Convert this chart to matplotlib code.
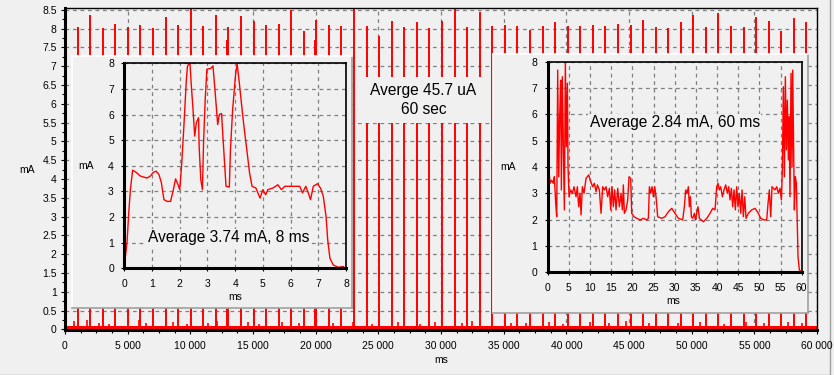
import matplotlib
matplotlib.use('Agg')
import matplotlib.pyplot as plt
from matplotlib.ticker import MultipleLocator, FuncFormatter
from matplotlib.lines import Line2D

plt.rcParams['font.family'] = ['Liberation Sans', 'DejaVu Sans']

# ---------------- data ----------------
# main chart: wake-up pulses over 60 s (ms, mA)
spike_t = [0, 1003, 2005, 3008, 4011, 5014, 6016, 7019, 8022, 9024,
           10027, 11030, 12032, 13035, 14038, 15041, 16043, 17046, 18049, 19051,
           20054, 21057, 22059, 23062, 24065, 25068, 26070, 27073, 28076, 29078,
           30081, 31084, 32086, 33089, 34092, 35095, 36097, 37100, 38103, 39105,
           40108, 41111, 42113, 43116, 44119, 45122, 46124, 47127, 48130, 49132,
           50135, 51138, 52140, 53143, 54146, 55149, 56151, 57154, 58157, 59159,
           12955, 19950]
spike_h = [8.07, 8.04, 8.37, 8.01, 8.13, 8.04, 8.10, 8.01, 8.31, 8.10,
           9.00, 8.07, 8.37, 8.04, 8.34, 8.21, 8.10, 8.13, 8.48, 7.94,
           8.23, 8.10, 8.07, 9.00, 8.07, 7.81, 8.21, 8.04, 8.16, 8.01,
           8.21, 9.00, 8.04, 8.45, 8.07, 8.10, 8.07, 7.97, 8.07, 8.17,
           8.07, 8.07, 8.10, 8.07, 8.13, 8.10, 8.23, 8.04, 8.01, 8.17,
           8.37, 8.04, 8.42, 8.07, 8.04, 8.31, 8.21, 7.94, 8.28, 8.16,
           7.70, 7.70]
small_t = [745, 1780, 2710, 3500, 5930, 6500, 8620, 9700, 11400, 12100,
           14600, 15500, 17300, 18700, 21400, 23000, 24500, 26600, 28300, 29500,
           31700, 32500, 35600, 36800, 38600, 39700, 41900, 43400, 44800, 46600,
           48900, 50700, 52600, 54300, 55800, 57700, 58800]
small_h = [0.22, 0.25, 0.18, 0.15, 0.24, 0.16, 0.20, 0.14, 0.17, 0.22,
           0.19, 0.15, 0.21, 0.16, 0.18, 0.20, 0.15, 0.19, 0.14, 0.21,
           0.17, 0.23, 0.16, 0.18, 0.20, 0.15, 0.19, 0.17, 0.22, 0.16,
           0.18, 0.20, 0.15, 0.21, 0.17, 0.19, 0.16]
floor_t = [0, 60000]
floor_h = [0.08, 0.08]

# inset 1: one 8 ms pulse
p1_t = [0, 0.04, 0.10, 0.16, 0.22, 0.30, 0.42, 0.58, 0.82, 0.94, 1.04, 1.15, 1.25, 1.34,
        1.43, 1.55, 1.67, 1.77, 1.85, 1.94, 2.00, 2.07, 2.15, 2.24, 2.28, 2.37, 2.42,
        2.48, 2.54, 2.60, 2.68, 2.70, 2.76, 2.82, 2.86, 2.92, 2.98, 3.12, 3.20, 3.28,
        3.37, 3.43, 3.51, 3.55, 3.61, 3.67, 3.79, 3.83, 3.91, 4.01, 4.07, 4.15, 4.25,
        4.33, 4.42, 4.52, 4.61, 4.75, 4.82, 4.90, 5.00, 5.10, 5.18, 5.36, 5.54, 5.67,
        5.79, 6.09, 6.33, 6.43, 6.55, 6.64, 6.72, 6.82, 6.97, 7.08, 7.18, 7.28, 7.34,
        7.42, 7.54, 7.72, 7.90, 7.97]
p1_v = [0, 0.46, 1.04, 2.15, 3.07, 3.83, 3.75, 3.60, 3.52, 3.60, 3.74, 3.79, 3.66, 3.33,
        2.68, 2.61, 2.61, 3.07, 3.49, 3.26, 3.07, 4.05, 5.55, 7.37, 7.90, 8.00, 7.10,
        6.20, 5.16, 5.68, 5.88, 4.77, 3.46, 3.07, 4.90, 6.60, 7.77, 7.80, 7.90, 6.85,
        5.61, 6.00, 6.04, 5.29, 4.25, 3.20, 3.17, 4.63, 6.20, 7.50, 8.00, 7.24, 6.20,
        5.42, 4.63, 3.72, 3.20, 3.13, 2.94, 2.74, 3.07, 2.87, 3.07, 3.13, 3.26, 3.07,
        3.20, 3.20, 3.20, 2.94, 3.20, 2.94, 2.68, 3.20, 3.30, 3.13, 2.81, 2.02, 1.11,
        0.39, 0.13, 0.04, 0.07, 0]

# inset 2: one 60 ms event
p2_t = [0, 0.16, 0.31, 0.55, 0.94, 1.34, 1.57, 1.89, 2.13, 2.36, 2.60, 2.83, 3.07, 3.23,
        3.46, 3.70, 3.94, 4.17, 4.41, 4.65, 4.80, 5.04, 5.43, 5.83, 6.22, 6.69, 7.00,
        7.32, 7.64, 7.87, 8.19, 8.58, 9.06, 9.69, 10.16, 10.63, 11.02, 11.42, 11.73,
        12.20, 12.60, 12.99, 13.39, 13.78, 14.17, 14.57, 14.88, 15.20, 15.51, 15.83,
        16.14, 16.54, 16.93, 17.32, 17.64, 17.87, 18.11, 18.50, 18.90, 19.21, 19.61,
        19.84, 20.39, 21.02, 21.81, 22.60, 23.39, 23.78, 24.02, 24.33, 24.65, 24.96,
        25.28, 25.59, 25.98, 26.93, 27.72, 28.50, 29.29, 30.08, 30.87, 31.89, 32.28,
        32.60, 32.91, 33.23, 33.46, 33.70, 33.94, 34.25, 34.65, 34.88, 35.20, 35.51,
        35.83, 36.77, 37.56, 38.35, 38.98, 39.53, 39.92, 40.24, 40.55, 40.87, 41.26,
        41.65, 42.05, 42.44, 42.76, 43.07, 43.39, 43.70, 44.02, 44.33, 44.65, 44.96,
        45.28, 45.59, 45.91, 46.22, 46.54, 46.85, 47.40, 48.19, 48.98, 49.76, 50.31,
        51.10, 51.73, 52.05, 52.36, 52.68, 52.99, 53.31, 53.70, 54.09, 54.49, 54.88,
        55.20, 55.43, 55.67, 55.91, 56.14, 56.38, 56.61, 56.85, 57.01, 57.24, 57.48,
        57.72, 57.87, 58.11, 58.27, 58.50, 58.74, 58.90, 59.13, 59.45, 60.0]
p2_v = [0, 1.48, 3.89, 3.38, 3.50, 3.38, 3.63, 2.62, 2.11, 7.68, 3.63, 5.91, 7.30, 3.13,
        7.43, 4.65, 2.37, 8.00, 4.77, 7.18, 4.01, 2.87, 3.13, 3.00, 3.25, 2.87, 3.25,
        2.49, 3.00, 2.18, 3.25, 3.00, 3.57, 3.70, 3.44, 3.25, 3.38, 3.06, 3.32,
        3.13, 2.24, 3.25, 3.13, 3.25, 2.87, 3.19, 2.37, 3.25, 2.49, 3.13,
        2.37, 3.19, 2.49, 3.00, 2.37, 3.32, 2.24, 2.37, 2.75, 3.63, 3.57,
        2.24, 2.11, 2.05, 1.99, 2.05, 1.99, 2.05, 3.25, 3.00, 3.25, 2.87,
        3.25, 2.87, 2.11, 2.05, 2.11, 2.30, 2.43, 2.24, 2.05, 1.99, 2.49,
        3.13, 3.00, 3.25, 2.49, 2.87, 2.11, 2.05, 2.24, 1.99, 2.24, 2.49,
        2.05, 1.92, 2.05, 2.24, 2.43, 2.37, 3.25, 3.38, 3.13, 3.25, 2.87,
        3.13, 3.32, 3.00, 3.25, 2.75, 3.19, 2.49, 3.13, 2.37, 3.25, 2.49,
        3.00, 2.24, 3.13, 2.11, 2.87, 2.05, 2.24, 2.37, 2.43, 2.24, 2.05,
        1.99, 1.99, 2.62, 3.13, 2.11, 3.25, 3.19, 3.13, 3.25, 3.00, 3.19,
        2.75, 3.89, 7.05, 3.63, 7.43, 4.65, 6.54, 4.27, 5.91, 2.87, 7.56,
        4.01, 7.68, 4.65, 2.37, 3.63, 3.38, 2.24, 0.59, 0.09, 0]

main_text = "Averge 45.7 uA\n60 sec"
inset1_text = "Average 3.74 mA, 8 ms"
inset2_text = "Average 2.84 mA, 60 ms"

# ---------------- style ----------------
BG = '#f0f0f0'
RED = '#ff0000'
GRID = dict(color='#808080', linestyle=(0, (3, 3)), linewidth=0.9)
FS = 7.5
W, H = 834, 375


def fx(px):
    return px / W


def fy(py):
    return 1 - py / H


fig = plt.figure(figsize=(W / 100, H / 100), dpi=100, facecolor=BG)

# outer frame of the control (behind everything)
fig.add_artist(Line2D([fx(829.5), fx(829.5)], [fy(374.5), 1], transform=fig.transFigure,
                      color='#a0a0a0', linewidth=1, zorder=0))
fig.add_artist(Line2D([0, fx(829.5)], [fy(374.5), fy(374.5)], transform=fig.transFigure,
                      color='#a0a0a0', linewidth=1, zorder=0))

# ---------------- main axes ----------------
ax = fig.add_axes([fx(65), fy(330), fx(817) - fx(65), fy(8) - fy(330)], zorder=1)
ax.set_facecolor(BG)
ax.set_xlim(0, 60000)
ax.set_ylim(-0.015, 8.545)
ax.vlines(spike_t, 0, spike_h, color=RED, linewidth=1.4)
ax.vlines(small_t, 0, small_h, color=RED, linewidth=1.2)
ax.fill_between(floor_t, 0, floor_h, color=RED, linewidth=0)
ax.xaxis.set_major_locator(MultipleLocator(5000))
ax.xaxis.set_minor_locator(MultipleLocator(1250))
ax.yaxis.set_major_locator(MultipleLocator(0.5))
ax.yaxis.set_minor_locator(MultipleLocator(0.25))
ax.xaxis.set_major_formatter(FuncFormatter(lambda v, p: f"{int(round(v)):,}".replace(",", " ")))
ax.yaxis.set_major_formatter(FuncFormatter(lambda v, p: f"{v:g}"))
ax.tick_params(axis='both', which='major', length=3, width=0.8, labelsize=FS, pad=3)
ax.tick_params(axis='both', which='minor', length=2, width=0.8)
ax.tick_params(axis='x', pad=5)
ax.grid(True, which='major', **GRID)
ax.set_axisbelow(True)
for s in ['left', 'bottom']:
    ax.spines[s].set_linewidth(2.2)
for s in ['top', 'right']:
    ax.spines[s].set_linewidth(1.0)
fig.text(fx(27), fy(170), "mA", fontsize=FS, ha='center', va='center')
fig.text(fx(441), fy(360), "ms", fontsize=FS, ha='center', va='center')

# text box over main chart
tb = fig.add_axes([fx(357), fy(123), fx(490) - fx(357), fy(77) - fy(123)], zorder=2)
tb.set_facecolor(BG)
tb.set_xticks([]); tb.set_yticks([])
for s in tb.spines.values():
    s.set_visible(False)
tb.text(0.5, 0.5, main_text, ha='center', va='center', fontsize=11.2,
        linespacing=1.25, transform=tb.transAxes)


def panel(l, t, r, b):
    p = fig.add_axes([fx(l), fy(b), fx(r) - fx(l), fy(t) - fy(b)], zorder=2)
    p.set_facecolor(BG)
    p.set_xticks([]); p.set_yticks([])
    p.spines['top'].set_color('white')
    p.spines['left'].set_color('white')
    p.spines['bottom'].set_color('#a0a0a0')
    p.spines['right'].set_color('#a0a0a0')
    for s in p.spines.values():
        s.set_linewidth(1.2)
    return p


def style_inset(a):
    a.set_facecolor(BG)
    a.grid(True, which='major', **GRID)
    a.set_axisbelow(True)
    a.tick_params(axis='both', which='major', length=2.5, width=0.8, labelsize=FS, pad=5)
    for s in ['left', 'bottom']:
        a.spines[s].set_linewidth(2.2)
    for s in ['top', 'right']:
        a.spines[s].set_linewidth(1.2)


TXT_BOX = dict(facecolor=BG, edgecolor='none', pad=1.0)

# ---------------- inset 1 ----------------
panel(72, 56, 352, 308)
a1 = fig.add_axes([fx(124.3), fy(268.3), fx(346) - fx(124.3), fy(63.3) - fy(268.3)], zorder=3)
a1.plot(p1_t, p1_v, color=RED, linewidth=1.0)
a1.set_xlim(0, 8)
a1.set_ylim(0, 8)
a1.xaxis.set_major_locator(MultipleLocator(1))
a1.yaxis.set_major_locator(MultipleLocator(1))
style_inset(a1)
a1.text(0.47, 0.15, inset1_text, transform=a1.transAxes, ha='center', va='center',
        fontsize=11.2, bbox=TXT_BOX, zorder=10)
fig.text(fx(86), fy(166), "mA", fontsize=FS, ha='center', va='center', zorder=4)
fig.text(fx(235), fy(297), "ms", fontsize=FS, ha='center', va='center', zorder=4)

# ---------------- inset 2 ----------------
panel(493, 54, 808, 313)
a2 = fig.add_axes([fx(547.7), fy(272.3), fx(801.7) - fx(547.7), fy(61.7) - fy(272.3)], zorder=3)
a2.plot(p2_t, p2_v, color=RED, linewidth=1.0)
a2.set_xlim(0, 60)
a2.set_ylim(0, 8)
a2.xaxis.set_major_locator(MultipleLocator(5))
a2.yaxis.set_major_locator(MultipleLocator(1))
style_inset(a2)
a2.text(0.5, 0.71, inset2_text, transform=a2.transAxes, ha='center', va='center',
        fontsize=11.2, bbox=TXT_BOX, zorder=10)
fig.text(fx(508), fy(167), "mA", fontsize=FS, ha='center', va='center', zorder=4)
fig.text(fx(673), fy(301), "ms", fontsize=FS, ha='center', va='center', zorder=4)

fig.savefig('out.png', dpi=100, facecolor=BG)
